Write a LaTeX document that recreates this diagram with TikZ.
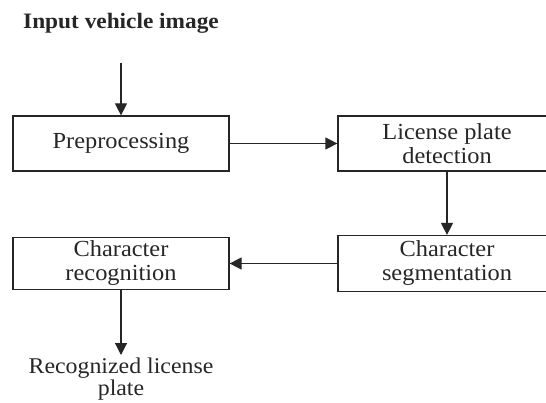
\documentclass[tikz,border=0pt]{standalone}
\usepackage{fontspec}
\setmainfont[FakeStretch=1.06]{Liberation Serif}
\usetikzlibrary{arrows.meta}
\begin{document}
\begin{tikzpicture}[x=1pt,y=-1pt,
  every node/.style={font=\fontsize{23}{24}\selectfont, text=black!85},
  stepbox/.style={draw=black!85, line width=1.2pt, minimum width=216pt, minimum height=55pt, inner sep=0pt, align=center},
  conn/.style={draw=black!85, line width=1.2pt, -{Triangle[length=12pt,width=12pt]}}]
\useasboundingbox (0,0) rectangle (546,403);
\node[font=\fontsize{22}{24}\selectfont\bfseries] (in) at (121,23) {Input vehicle image};
\coordinate (inend) at (121,63);
\node[stepbox] (pre) at (121,143.5) {Preprocessing};
\node[stepbox, minimum width=218pt] (lpd) at (447,143.5) {License plate\\detection};
\node[stepbox, minimum width=218pt, minimum height=56pt] (cs) at (447,263.5) {Character\\segmentation};
\node[stepbox, minimum height=52pt] (cr) at (121,263.5) {Character\\recognition};
\coordinate (outend) at (121,355);
\node[align=center, anchor=north, font=\fontsize{22.5}{21.5}\selectfont, inner sep=0pt] (out) at (121,358) {Recognized license\\plate};
\draw[conn] (inend) -- (pre.north);
\draw[conn] (pre.east) -- (lpd.west);
\draw[conn] (lpd.south) -- (cs.north);
\draw[conn] (cs.west) -- (cr.east);
\draw[conn] (cr.south) -- (outend);
\end{tikzpicture}
\end{document}
